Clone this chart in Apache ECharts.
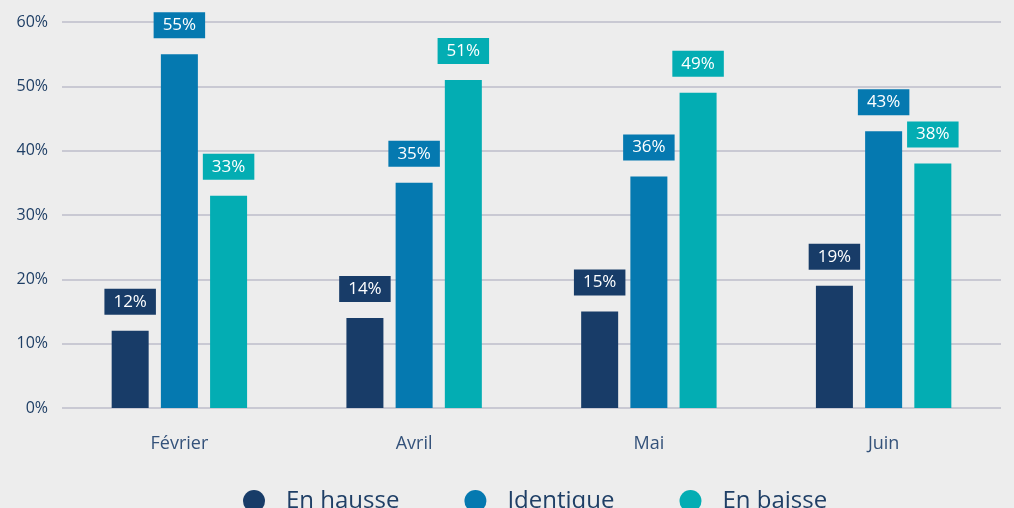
<!DOCTYPE html>
<html>
<head>
<meta charset="utf-8">
<script src="https://cdn.jsdelivr.net/npm/echarts@6/dist/echarts.min.js"></script>
<style>
  html, body { margin: 0; padding: 0; background: #ededed; }
  #chart { width: 1014px; height: 508px; }
</style>
</head>
<body>
<div id="chart"></div>
<script>
const categories = ['Février', 'Avril', 'Mai', 'Juin']
const enHausse = [12, 14, 15, 19]
const identique = [55, 35, 36, 43]
const enBaisse = [33, 51, 49, 38]

const font = '"Open Sans", sans-serif'
const textColor = '#1f3f66'

const chart = echarts.init(document.getElementById('chart'))

function makeSeries(name, data, color) {
  return {
    name: name,
    type: 'bar',
    data: data,
    barWidth: 37,
    barGap: '33%',
    itemStyle: { color: color },
    label: {
      show: true,
      position: 'top',
      distance: 16,
      formatter: '{c}%',
      color: '#fff',
      fontFamily: font,
      fontSize: 17,
      lineHeight: 18,
      backgroundColor: color,
      padding: [4, 9],
    },
  }
}

chart.setOption({
  backgroundColor: '#ededed',
  animation: false,
  grid: {
    top: 22,
    bottom: 100,
    left: 62,
    right: 13,
  },
  legend: {
    top: 484,
    left: 238,
    icon: 'circle',
    itemWidth: 22,
    itemHeight: 22,
    itemGap: 65,
    textStyle: {
      color: textColor,
      fontFamily: font,
      fontSize: 24,
      padding: [0, 0, 0, 16],
    },
  },
  xAxis: {
    type: 'category',
    data: categories,
    axisLine: { show: false },
    axisTick: { show: false },
    axisLabel: {
      color: '#34527a',
      fontFamily: font,
      fontSize: 18,
      margin: 27,
    },
  },
  yAxis: {
    type: 'value',
    min: 0,
    max: 60,
    interval: 10,
    axisLabel: {
      formatter: '{value}%',
      color: textColor,
      fontFamily: font,
      fontSize: 16,
      margin: 14,
    },
    splitLine: {
      lineStyle: { color: '#c9c9d3', width: 2 },
    },
  },
  series: [
    makeSeries('En hausse', enHausse, '#183c68'),
    makeSeries('Identique', identique, '#0579b0'),
    makeSeries('En baisse', enBaisse, '#03adb3'),
  ],
})
</script>
</body>
</html>
